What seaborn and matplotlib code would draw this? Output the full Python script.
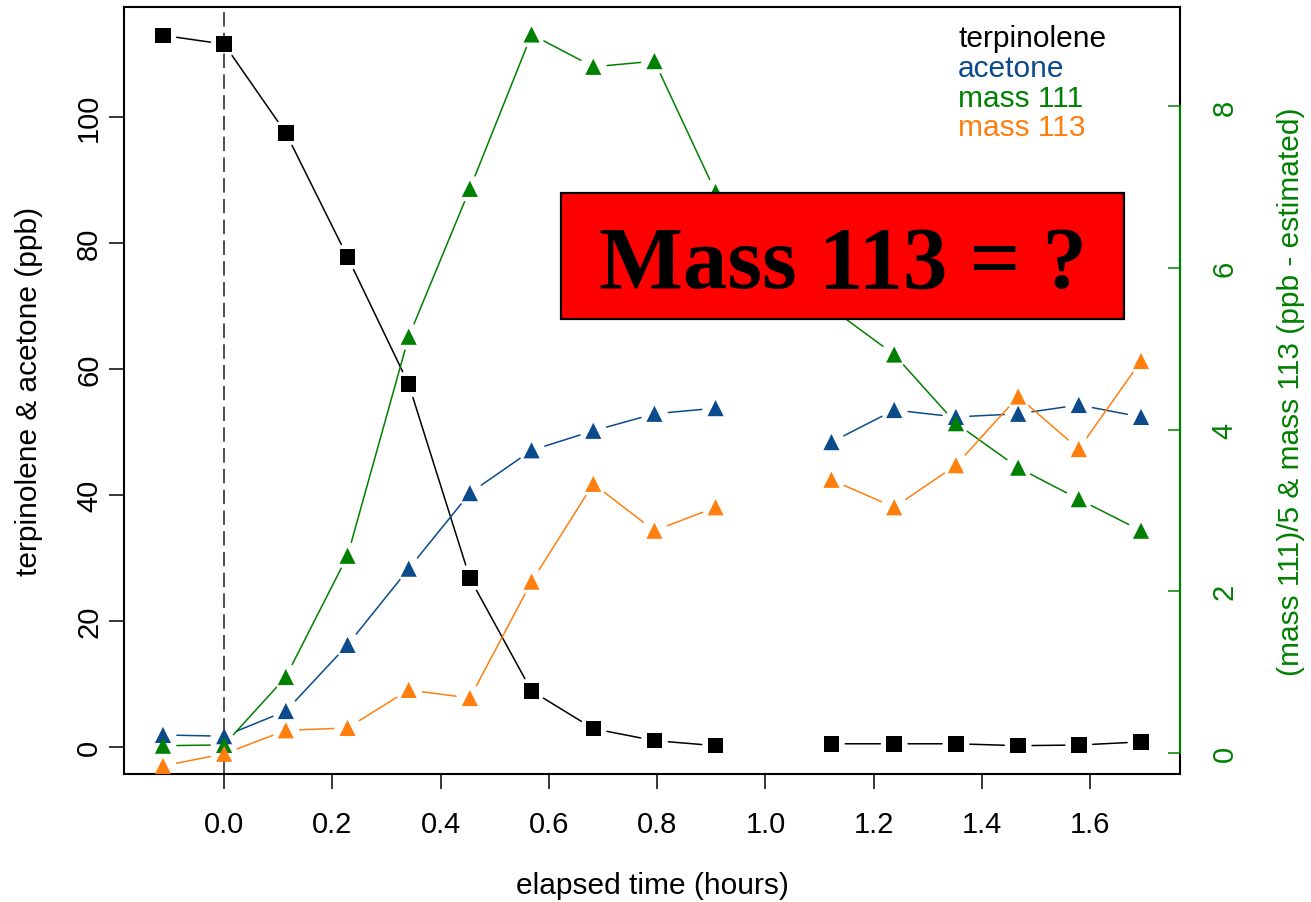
import numpy as np
import pandas as pd
import seaborn as sns
import matplotlib.pyplot as plt
from matplotlib.patches import Rectangle

# elapsed time of each sample (hours); the sample near 1.0 h is missing
time_h = [-0.113, 0.0, 0.114, 0.228, 0.341, 0.454, 0.568, 0.682, 0.795, 0.908,
          1.015, 1.122, 1.238, 1.352, 1.467, 1.579, 1.694]

# left axis (ppb)
terpinolene = [113.0, 111.6, 97.5, 77.8, 57.6, 26.8, 8.9, 2.9, 1.0, 0.2,
               np.nan, 0.5, 0.5, 0.5, 0.2, 0.3, 0.8]
acetone = [1.9, 1.7, 5.7, 16.2, 28.3, 40.3, 47.1, 50.2, 52.9, 53.8,
           np.nan, 48.4, 53.5, 52.4, 52.9, 54.3, 52.4]

# right axis: (mass 111)/5 and mass 113 (ppb - estimated)
mass111_div5 = [0.09, 0.10, 0.94, 2.44, 5.15, 6.98, 8.89, 8.49, 8.56, 6.94,
                np.nan, 5.50, 4.93, 4.08, 3.53, 3.14, 2.75]
mass113 = [-0.16, -0.01, 0.28, 0.31, 0.78, 0.68, 2.12, 3.33, 2.75, 3.04,
           np.nan, 3.38, 3.04, 3.56, 4.41, 3.76, 4.85]

x_ticks = [0.0, 0.2, 0.4, 0.6, 0.8, 1.0, 1.2, 1.4, 1.6]
left_ticks = [0, 20, 40, 60, 80, 100]
right_ticks = [0, 2, 4, 6, 8]

series_names = ["terpinolene", "acetone", "mass 111", "mass 113"]
colors = {"terpinolene": "black", "acetone": "#0b4a8b",
          "mass 111": "#008000", "mass 113": "#ff7f0e"}

sns.set_style("ticks")
plt.rcParams["font.family"] = ["Liberation Sans", "DejaVu Sans"]
plt.rcParams["text.color"] = "black"
plt.rcParams["axes.labelcolor"] = "black"
plt.rcParams["xtick.color"] = "black"
plt.rcParams["ytick.color"] = "black"

FS_TICK = 21
FS_LABEL = 21.5


def draw_series(ax, values, color, marker, size):
    """R style type='b': markers with small gaps in the connecting lines."""
    df = pd.DataFrame({"t": time_h, "v": values})
    for i in range(len(df) - 1):
        a, b = df.iloc[i], df.iloc[i + 1]
        if np.isnan(a["v"]) or np.isnan(b["v"]):
            continue
        ax.annotate("", xy=(b["t"], b["v"]), xytext=(a["t"], a["v"]),
                    arrowprops=dict(arrowstyle="-", color=color, lw=1.1,
                                    shrinkA=10, shrinkB=10), zorder=2)
    sns.scatterplot(data=df.dropna(), x="t", y="v", ax=ax, marker=marker,
                    s=size, color=color, edgecolor="none", linewidth=0,
                    zorder=3, legend=False)


fig = plt.figure(figsize=(13.11, 9.03), dpi=100)
ax = fig.add_axes([124 / 1311, 1 - 775 / 903, 1056 / 1311, 767 / 903])
ax2 = ax.twinx()

ax.axvline(0, color="#404040", lw=1.3, dashes=(8, 3.5), zorder=1)

draw_series(ax, terpinolene, colors["terpinolene"], "s", 125)
draw_series(ax, acetone, colors["acetone"], "^", 135)
draw_series(ax2, mass111_div5, colors["mass 111"], "^", 135)
draw_series(ax2, mass113, colors["mass 113"], "^", 135)

ax.set_xlim(-0.185, 1.766)
ax.set_ylim(-4.3, 117.5)
ax2.set_ylim(-0.26, 9.23)

# left / bottom axes
ax.set_xticks(x_ticks)
ax.set_xticklabels([f"{t:.1f}" for t in x_ticks])
ax.set_yticks(left_ticks)
ax.set_yticklabels([str(t) for t in left_ticks], rotation=90, va="center")
ax.tick_params(axis="x", direction="out", length=11, width=1.1,
               labelsize=FS_TICK, pad=15, colors="black")
ax.tick_params(axis="y", direction="out", length=11, width=1.1,
               labelsize=FS_TICK, pad=4, colors="black")
for sp in ax.spines.values():
    sp.set_visible(True)
    sp.set_linewidth(1.5)
    sp.set_color("black")
ax.set_xlabel("elapsed time (hours)", fontsize=FS_LABEL, color="black")
ax.set_ylabel("terpinolene & acetone (ppb)", fontsize=FS_LABEL, color="black")
ax.xaxis.set_label_coords(0.5, -0.1265)
ax.yaxis.set_label_coords(-0.0767, 0.5)

# right axis in green
green = colors["mass 111"]
ax2.set_yticks(right_ticks)
ax2.set_yticklabels([str(t) for t in right_ticks], rotation=90, va="center")
ax2.tick_params(axis="y", direction="in", length=9, width=1.1,
                labelsize=FS_TICK, pad=22, colors=green)
for side in ["left", "top", "bottom"]:
    ax2.spines[side].set_visible(False)
ax2.spines["right"].set_color(green)
ax2.spines["right"].set_linewidth(1.5)
ax2.spines["right"].set_bounds(0, 8)
ax2.set_ylabel("(mass 111)/5 & mass 113 (ppb - estimated)", fontsize=FS_LABEL,
               color=green)
ax2.yaxis.set_label_coords(1.0915, 0.5)

# text-only legend in the top right corner
for i, name in enumerate(series_names):
    ax2.text(0.79, 0.960 - i * 0.039, name, transform=ax2.transAxes,
             color=colors[name], fontsize=FS_LABEL, va="center", ha="left")

# the red call-out box
ax2.add_patch(Rectangle((0.414, 0.593), 0.533, 0.1645, transform=ax2.transAxes,
                        facecolor="red", edgecolor="black", lw=1.6, zorder=10))
ax2.text(0.681, 0.635, "Mass 113 = ?", transform=ax2.transAxes, fontsize=64,
         family="Liberation Serif", weight="bold", color="black",
         ha="center", va="baseline", zorder=11)

fig.savefig("out.png", dpi=100)
